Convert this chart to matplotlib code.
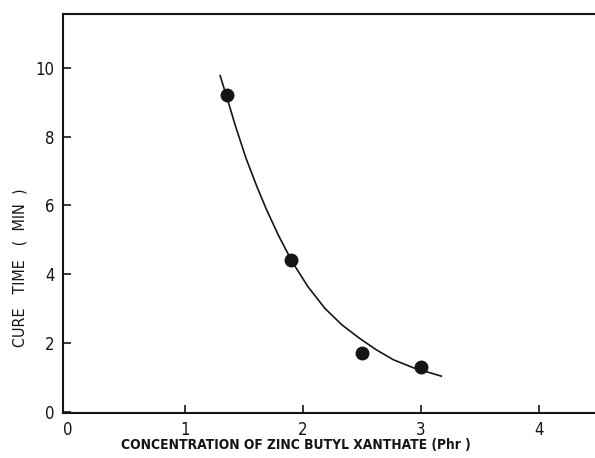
import matplotlib
matplotlib.use("Agg")
import matplotlib.pyplot as plt

# Measured data points
conc = [1.35, 1.9, 2.5, 3.0]
cure_time = [9.2, 4.4, 1.7, 1.3]

# Fitted curve
curve_x = [1.295, 1.354, 1.424, 1.516, 1.607, 1.685, 1.789, 1.906, 2.041,
           2.185, 2.330, 2.475, 2.62, 2.765, 2.939, 3.175]
curve_y = [9.77, 9.12, 8.32, 7.36, 6.55, 5.91, 5.14, 4.37, 3.64,
           3.01, 2.53, 2.15, 1.81, 1.52, 1.28, 1.04]

xticks = [0, 1, 2, 3, 4]
yticks = [0, 2, 4, 6, 8, 10]

plt.rcParams['font.family'] = ['DejaVu Sans']
plt.rcParams['font.stretch'] = 'condensed'

fig = plt.figure(figsize=(5.95, 4.58), dpi=100)
W, H = 595, 458
ax = fig.add_axes([63 / W, 1 - 413 / H, (W - 63) / W, (413 - 14) / H])

ink = '#151515'
ax.plot(curve_x, curve_y, color=ink, lw=1.2, solid_joinstyle='round')
ax.plot(conc, cure_time, 'o', color=ink, ms=9, mec=ink)

ax.set_xlim(-0.04, 4.48)
ax.set_ylim(-0.03, 11.56)
ax.set_xticks(xticks)
ax.set_yticks(yticks)
ax.set_xticklabels([str(v) for v in xticks])
ax.set_yticklabels([str(v) for v in yticks])

for s in ['left', 'bottom', 'top']:
    ax.spines[s].set_linewidth(1.5)
    ax.spines[s].set_color(ink)
ax.spines['right'].set_visible(False)

ax.tick_params(axis='both', direction='in', length=6, width=1.2, color=ink,
               labelsize=12, labelcolor=ink)
ax.tick_params(axis='x', pad=6)
ax.tick_params(axis='y', pad=6)
# no visible tick mark at the origin
ax.xaxis.get_major_ticks()[0].tick1line.set_visible(False)

ax.set_xlabel('CONCENTRATION OF ZINC BUTYL XANTHATE (Phr )', fontsize=9.9,
              color=ink, fontweight='semibold')
ax.xaxis.set_label_coords((296 - 63) / 532, (413 - 445) / 399, transform=ax.transAxes)
ax.xaxis.label.set_va('center')

ax.set_ylabel('CURE   TIME   (  MIN  )', fontsize=11.5, color=ink, fontweight='medium')
ax.yaxis.set_label_coords((20 - 63) / 532, (413 - 268) / 399, transform=ax.transAxes)
ax.yaxis.label.set_va('center')

fig.savefig('out.png', dpi=100)
